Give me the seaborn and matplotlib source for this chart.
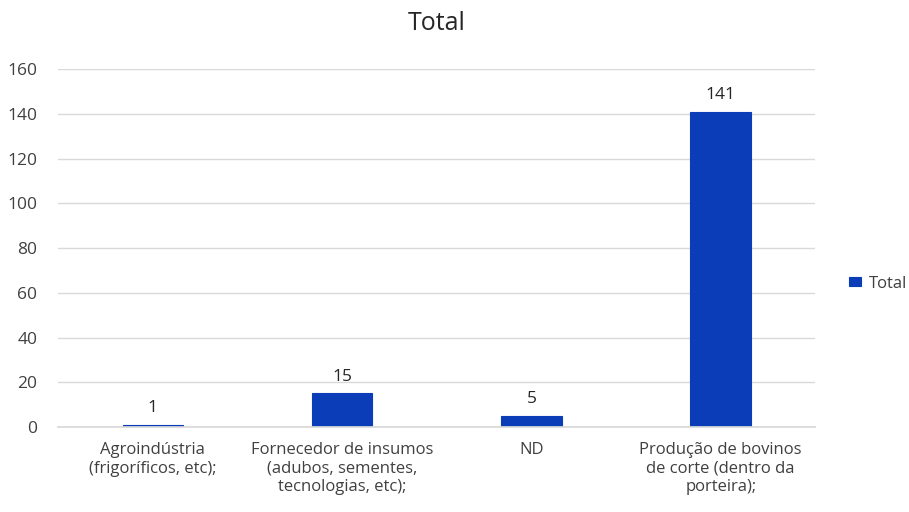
import matplotlib
matplotlib.use("Agg")
import matplotlib.pyplot as plt
import seaborn as sns
import pandas as pd

categories = [
    "Agroindústria\n(frigoríficos, etc);",
    "Fornecedor de insumos\n(adubos, sementes,\ntecnologias, etc);",
    "ND",
    "Produção de bovinos\nde corte (dentro da\nporteira);",
]
values = [1, 15, 5, 141]
series_name = "Total"
y_ticks = [0, 20, 40, 60, 80, 100, 120, 140, 160]

bar_color = "#0B3DB8"
text_color = "#404040"

sns.set_theme(style="white")
plt.rcParams["font.family"] = ["Open Sans", "DejaVu Sans"]

df = pd.DataFrame({"categoria": categories, "valor": values, "serie": series_name})

fig = plt.figure(figsize=(9.09, 5.12), dpi=100)
ax = fig.add_axes([0.064, 0.166, 0.833, 0.699])

sns.barplot(data=df, x="categoria", y="valor", hue="serie", palette=[bar_color],
            width=0.32, saturation=1, edgecolor=bar_color, linewidth=0.8,
            ax=ax, legend=True)

ax.set_ylim(0, 160)
ax.set_yticks(y_ticks)
ax.yaxis.grid(True, color="#d9d9d9", linewidth=1)
ax.set_axisbelow(True)
for s in ["top", "right", "left"]:
    ax.spines[s].set_visible(False)
ax.spines["bottom"].set_color("#d9d9d9")
ax.tick_params(axis="y", length=0, labelsize=12.5, colors=text_color, pad=15)
ax.tick_params(axis="x", length=0, labelsize=12, colors=text_color, pad=11)
for lbl in ax.get_xticklabels():
    lbl.set_linespacing(1.2)
ax.set_xlabel("")
ax.set_ylabel("")
ax.set_title("Total", fontsize=18, color="#262626", pad=28)

for c in ax.containers:
    ax.bar_label(c, labels=[str(v) for v in values], padding=6, fontsize=12.5, color="#262626")

leg = ax.legend(loc="center left", bbox_to_anchor=(1.025, 0.40), frameon=False,
                fontsize=12, handlelength=0.7, handleheight=0.45, handletextpad=0.45)
for t in leg.get_texts():
    t.set_color(text_color)

fig.savefig("out.png", dpi=100)
